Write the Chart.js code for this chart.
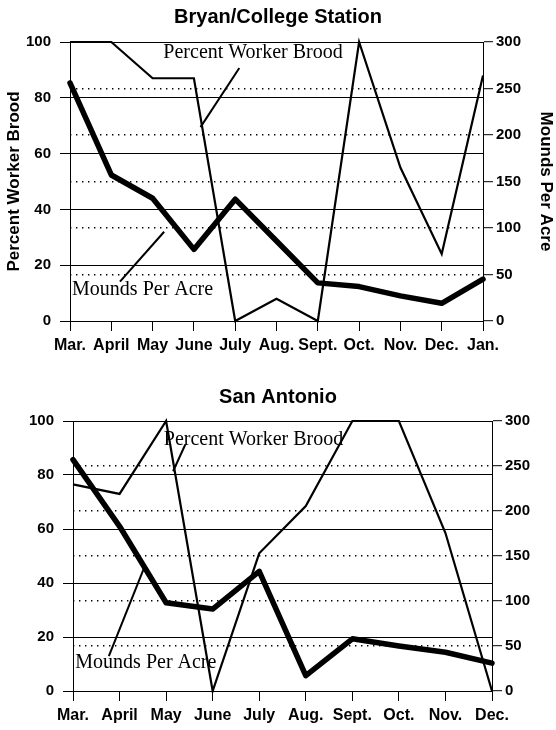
<!DOCTYPE html>
<html lang="en">
<head>
<meta charset="UTF-8">
<title>Percent Worker Brood / Mounds Per Acre</title>
<script src="https://cdn.jsdelivr.net/npm/chart.js"></script>
<style>
  body { margin: 0; background: #fff; }
  .painel { width: 556px; height: 365px; }
</style>
</head>
<body>
<div class="painel"><canvas id="grafBryan" width="556" height="365"></canvas></div>
<div class="painel"><canvas id="grafSanAntonio" width="556" height="365"></canvas></div>
<script>
// dados
const mesesBryan = ['Mar.', 'April', 'May', 'June', 'July', 'Aug.', 'Sept.', 'Oct.', 'Nov.', 'Dec.', 'Jan.'];
const broodBryan = [100, 100, 87, 87, 0, 8, 0, 100, 55, 24, 88];
const moundsBryan = [256, 157, 132, 77, 131, 86, 41, 37, 27, 19, 45];

const mesesSanAntonio = ['Mar.', 'April', 'May', 'June', 'July', 'Aug.', 'Sept.', 'Oct.', 'Nov.', 'Dec.'];
const broodSanAntonio = [76.5, 73, 100, 0, 51, 68.5, 100, 100, 58.5, 0];
const moundsSanAntonio = [257, 183, 98, 91, 133, 17, 58, 50, 43, 31];

const ticksPercent = [0, 20, 40, 60, 80, 100];
const ticksMounds = [0, 50, 100, 150, 200, 250, 300];

Chart.defaults.color = '#000';
Chart.defaults.font.family = "'Liberation Sans', Arial, sans-serif";

// rotulos "Percent Worker Brood" / "Mounds Per Acre" com a setinha
function criarRotulos(itens) {
    return {
        id: 'rotulos',
        afterDatasetsDraw(chart) {
            const ctx = chart.ctx, x = chart.scales.x, y = chart.scales.y;
            ctx.save();
            ctx.fillStyle = '#000';
            ctx.strokeStyle = '#000';
            ctx.font = "20px 'Liberation Serif', 'Times New Roman', serif";
            ctx.textBaseline = 'middle';
            ctx.textAlign = 'left';
            itens.forEach(function (it) {
                ctx.fillText(it.texto, x.getPixelForValue(it.pos[0]), y.getPixelForValue(it.pos[1]));
                ctx.lineWidth = 2;
                ctx.beginPath();
                ctx.moveTo(x.getPixelForValue(it.seta[0]), y.getPixelForValue(it.seta[1]));
                ctx.lineTo(x.getPixelForValue(it.seta[2]), y.getPixelForValue(it.seta[3]));
                ctx.stroke();
            });
            ctx.restore();
        }
    };
}

function montarGrafico(id, titulo, meses, brood, mounds, cfg) {
    const fonteEixo = { size: 15, weight: 'bold' };
    return new Chart(document.getElementById(id), {
        type: 'line',
        data: {
            labels: meses,
            datasets: [{
                label: 'Percent Worker Brood',
                data: brood,
                yAxisID: 'y',
                borderColor: '#000',
                borderWidth: 2.2,
                pointRadius: 0,
                tension: 0,
                clip: 8
            }, {
                label: 'Mounds Per Acre',
                data: mounds,
                yAxisID: 'y1',
                borderColor: '#000',
                borderWidth: 5.5,
                borderJoinStyle: 'round',
                borderCapStyle: 'round',
                pointRadius: 0,
                tension: 0,
                clip: 8
            }]
        },
        options: {
            responsive: false,
            animation: false,
            devicePixelRatio: 1,
            plugins: {
                legend: { display: false },
                tooltip: { enabled: false },
                title: {
                    display: true,
                    text: titulo,
                    color: '#000',
                    font: { size: 20, weight: 'bold' },
                    padding: cfg.tituloPad
                }
            },
            scales: {
                x: {
                    offset: false,
                    grid: { drawOnChartArea: false, color: '#000', tickLength: 10, lineWidth: 1 },
                    border: { display: true, color: '#000', width: 1 },
                    ticks: { font: { size: 16, weight: 'bold' }, maxRotation: 0, autoSkip: false, padding: 5 },
                    afterFit: s => { s.height = cfg.alturaX; }
                },
                y: {
                    position: 'left',
                    min: 0, max: 100,
                    afterBuildTicks: s => { s.ticks = ticksPercent.map(v => ({ value: v })); },
                    grid: { color: '#000', lineWidth: 1, tickLength: 10 },
                    border: { display: true, color: '#000', width: 1 },
                    ticks: { font: fonteEixo, padding: 9 },
                    title: {
                        display: cfg.titulosEixo,
                        text: 'Percent Worker Brood',
                        font: { size: 17, weight: 'bold' },
                        padding: { top: 4, bottom: 0 }
                    },
                    afterFit: s => { s.width = cfg.larguraEsq; }
                },
                y1: {
                    position: 'right',
                    min: 0, max: 300,
                    afterBuildTicks: s => { s.ticks = ticksMounds.map(v => ({ value: v })); },
                    grid: {
                        // nas bordas (0 e 300) fica so a linha cheia do eixo esquerdo
                        color: c => (c.tick && (c.tick.value === 0 || c.tick.value === 300)) ? 'rgba(0,0,0,0)' : '#000',
                        tickColor: '#000',
                        lineWidth: 1.4, tickLength: 10, tickBorderDash: [], tickWidth: 1
                    },
                    border: { display: true, color: '#000', width: 1, dash: [1.4, 4.6] },
                    ticks: { font: fonteEixo, padding: 3 },
                    title: {
                        display: cfg.titulosEixo,
                        text: 'Mounds Per Acre',
                        font: { size: 17, weight: 'bold' },
                        padding: { top: 0, bottom: 0 }
                    },
                    afterFit: s => { s.width = cfg.larguraDir; }
                }
            }
        },
        plugins: [criarRotulos(cfg.rotulos)]
    });
}

montarGrafico('grafBryan', 'Bryan/College Station', mesesBryan, broodBryan, moundsBryan, {
    tituloPad: { top: 5, bottom: 13 },
    alturaX: 44,
    larguraEsq: 70,
    larguraDir: 73,
    titulosEixo: true,
    rotulos: [
        { texto: 'Percent Worker Brood', pos: [2.26, 96], seta: [4.10, 90.7, 3.16, 69.5] },
        { texto: 'Mounds Per Acre', pos: [0.05, 11.1], seta: [1.21, 14.1, 2.28, 32] }
    ]
});

montarGrafico('grafSanAntonio', 'San Antonio', mesesSanAntonio, broodSanAntonio, moundsSanAntonio, {
    tituloPad: { top: 20, bottom: 12 },
    alturaX: 39,
    larguraEsq: 73,
    larguraDir: 64,
    titulosEixo: false,
    rotulos: [
        { texto: 'Percent Worker Brood', pos: [1.95, 93], seta: [2.41, 91.2, 2.15, 81.4] },
        { texto: 'Mounds Per Acre', pos: [0.05, 10.4], seta: [0.77, 12.9, 1.54, 46.2] }
    ]
});
</script>
</body>
</html>
